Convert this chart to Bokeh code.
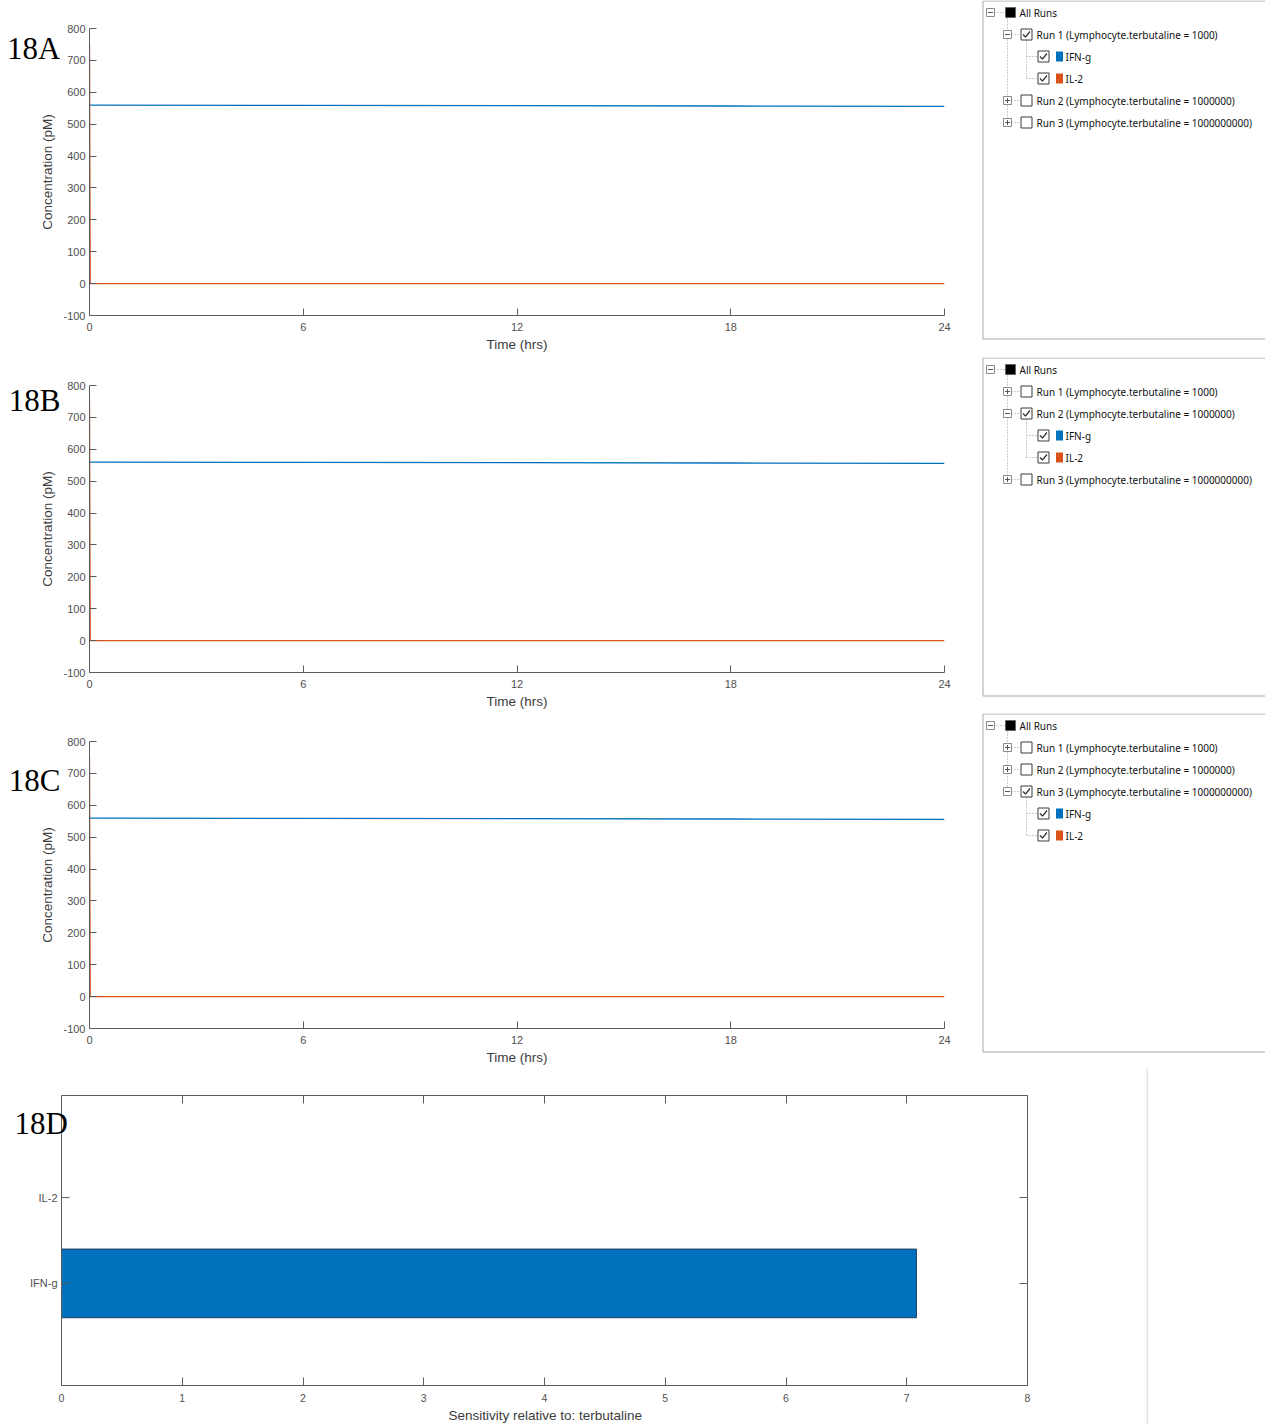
import math
from bokeh.plotting import figure
from bokeh.models import Range1d, FixedTicker, LinearAxis, Title
from bokeh.layouts import column, row
from bokeh.embed import file_html
from bokeh.resources import INLINE
from bokeh.core.properties import value

# ---- simulated time courses (same for every run) ----
time_hrs = [0, 0.02, 6, 12, 18, 24]
ifng_pm = [560, 560, 559, 558, 557, 556]
il2_pm = [750, 0, 0, 0, 0, 0]

species = ["IFN-g", "IL-2"]
species_colors = ["#0072BD", "#D95319"]

run_labels = [
    "Run 1 (Lymphocyte.terbutaline = 1000)",
    "Run 2 (Lymphocyte.terbutaline = 1000000)",
    "Run 3 (Lymphocyte.terbutaline = 1000000000)",
]
panel_tags = ["18A", "18B", "18C"]
conc_ticks = [-100, 0, 100, 200, 300, 400, 500, 600, 700, 800]
time_ticks = [0, 6, 12, 18, 24]

# ---- sensitivity bar chart ----
sens_species = ["IFN-g", "IL-2"]
sens_values = [7.08, 0.0]
sens_ticks = [0, 1, 2, 3, 4, 5, 6, 7, 8]

AX = "#5c5c5c"
TICK_TXT = "#505050"
LBL_TXT = "#3c3c3c"
SANS = "Liberation Sans"
SERIF = "Liberation Serif"
STRIP_W = 60


def no_align(p):
    if "frame_align" in p.properties():
        p.frame_align = False


def bare(p):
    p.grid.visible = False
    p.outline_line_color = None
    p.border_fill_color = "white"
    p.background_fill_color = "white"


def style_axis(ax, tick_len=7):
    ax.axis_line_color = AX
    ax.axis_line_width = 1
    ax.major_tick_line_color = AX
    ax.major_tick_in = tick_len
    ax.major_tick_out = 0
    ax.minor_tick_line_color = None
    ax.major_label_text_font = SANS
    ax.major_label_text_font_size = "11px"
    ax.major_label_text_color = TICK_TXT
    ax.axis_label_text_font = SANS
    ax.axis_label_text_font_size = "13.5px"
    ax.axis_label_text_font_style = "normal"
    ax.axis_label_text_color = LBL_TXT


def left_strip(h, tag, tag_base, frame_top, frame_h):
    """Panel tag and y-axis title, drawn to the left of a time-course plot."""
    p = figure(width=STRIP_W, height=h, x_range=Range1d(0, STRIP_W), y_range=Range1d(h, 0),
               x_axis_type=None, y_axis_type=None, output_backend="svg",
               toolbar_location=None, min_border=0)
    no_align(p)
    bare(p)
    p.text([STRIP_W], [tag_base], text=[tag], text_font=value(SERIF),
           text_font_size=value("31px"), text_align="right",
           text_baseline="alphabetic", text_color="black")
    p.text([47], [frame_top + frame_h / 2], text=["Concentration (pM)"],
           text_font=value(SANS), text_font_size=value("13.5px"), angle=math.pi / 2,
           text_align="center", text_baseline="middle", text_color=LBL_TXT)
    return p


def time_course(h, top, fh):
    p = figure(width=981 - STRIP_W, height=h, x_range=Range1d(0, 24), y_range=Range1d(-100, 800),
               output_backend="svg", toolbar_location=None,
               min_border_left=89 - STRIP_W, min_border_right=37, min_border_top=top,
               min_border_bottom=h - top - fh)
    bare(p)
    p.line(time_hrs, ifng_pm, line_color=species_colors[0], line_width=1.3)
    p.line(time_hrs, il2_pm, line_color=species_colors[1], line_width=1.3)
    p.xaxis.ticker = FixedTicker(ticks=time_ticks)
    p.yaxis.ticker = FixedTicker(ticks=conc_ticks)
    p.yaxis.major_label_overrides = {-100: "-100"}
    p.xaxis.axis_label = "Time (hrs)"
    style_axis(p.xaxis[0])
    style_axis(p.yaxis[0])
    p.xaxis.major_label_standoff = 7
    p.xaxis.axis_label_standoff = 3
    p.yaxis.major_label_standoff = 4
    return p


def tree_panel(h, open_run):
    p = figure(width=284, height=h, x_range=Range1d(0, 284), y_range=Range1d(h, 0),
               x_axis_type=None, y_axis_type=None, output_backend="svg",
               toolbar_location=None, min_border=0)
    no_align(p)
    bare(p)
    # panel frame
    p.line([284, 1.5, 1.5, 284], [0.5, 0.5, 338.5, 338.5], line_color="#a8a8a8", line_width=1)

    font = value("Noto Sans")
    fs = value("10px")
    rows = [("all", "All Runs", None)]
    for i, lab in enumerate(run_labels):
        rows.append(("run", lab, i))
        if i == open_run:
            for k, sp in enumerate(species):
                rows.append(("sp", sp, k))
    ys = [12 + 22 * k for k in range(len(rows))]

    run_ys = [y for (kind, _, _), y in zip(rows, ys) if kind == "run"]
    sp_ys = [y for (kind, _, _), y in zip(rows, ys) if kind == "sp"]
    dot = dict(line_color="#9a9a9a", line_width=1, line_dash="1 2")
    # tree connectors
    p.line([26, 26], [18, run_ys[-1]], **dot)
    p.line([13, 24], [12, 12], **dot)
    for y in run_ys:
        p.line([30, 39], [y, y], **dot)
    if sp_ys:
        p.line([45, 45], [40 + 22 * open_run, sp_ys[-1]], **dot)
        for y in sp_ys:
            p.line([45, 56], [y, y], **dot)

    def expander(x, y, plus):
        p.rect(x, y, 8, 8, fill_color="white", line_color="#8a8a8a", line_width=1)
        p.line([x - 2.5, x + 2.5], [y, y], line_color="#555", line_width=1)
        if plus:
            p.line([x, x], [y - 2.5, y + 2.5], line_color="#555", line_width=1)

    def checkbox(x, y, checked):
        p.rect(x, y, 11, 11, fill_color="white", line_color="#3a3a3a", line_width=1)
        if checked:
            p.line([x - 3.5, x - 1, x + 3.5], [y, y + 2.5, y - 3], line_color="#333", line_width=1.2)

    for (kind, lab, idx), y in zip(rows, ys):
        if kind == "all":
            expander(9, y, False)
            p.rect(29, y, 10, 10, fill_color="black", line_color="#666")
            p.text([38], [y], text=[lab], text_font=font, text_font_size=fs,
                   text_baseline="middle", text_color="#111")
        elif kind == "run":
            opened = idx == open_run
            expander(26, y, not opened)
            checkbox(45, y, opened)
            p.text([55], [y], text=[lab], text_font=font, text_font_size=fs,
                   text_baseline="middle", text_color="#111")
        else:
            checkbox(62, y, True)
            p.rect(78, y, 7, 10, fill_color=species_colors[idx], line_color=None)
            p.text([84], [y], text=[lab], text_font=font, text_font_size=fs,
                   text_baseline="middle", text_color="#111")
    return p


heights = [357, 356, 355]
tag_base = [48, 43, 67]
FRAME_TOP, FRAME_H = 28, 287
rows_out = []
for i in range(3):
    h = heights[i]
    rows_out.append(row(left_strip(h, panel_tags[i], tag_base[i], FRAME_TOP, FRAME_H),
                        time_course(h, FRAME_TOP, FRAME_H),
                        tree_panel(h, i)))

# ---- sensitivity panel ----
# The frame reaches the left edge of the canvas so the panel tag can sit left of
# the value axis; axes are bounded to the 0..8 sensitivity span.
hd, d_w = 356, 1146
d_top, d_fh, d_left, d_right = 27, 290, 61, 119
x_lo, x_hi = 0, 8
ppu_x = (d_w - d_right - d_left) / (x_hi - x_lo)
y_sens = Range1d(-0.19, 3.19)
ppu_y = d_fh / (y_sens.end - y_sens.start)
pd_ = figure(width=d_w, height=hd, x_range=Range1d(x_lo - d_left / ppu_x, x_hi), y_range=y_sens,
             y_axis_location="right", output_backend="svg", toolbar_location=None,
             min_border_left=0, min_border_right=d_right, min_border_top=d_top,
             min_border_bottom=hd - d_top - d_fh)
no_align(pd_)
bare(pd_)
sens_pos = [i + 1 for i in range(len(sens_species))]
pd_.hbar(y=sens_pos, left=0, right=sens_values, height=0.8,
         fill_color="#0072BD", line_color="#1d3b5a", line_width=1)

pd_.xaxis.ticker = FixedTicker(ticks=sens_ticks)
pd_.xaxis.bounds = (x_lo, x_hi)
style_axis(pd_.xaxis[0], 8)
pd_.xaxis.major_label_text_font_size = "10.5px"
pd_.xaxis.major_label_standoff = 8
# axis title under the bounded 0..8 axis (offset from the frame's left edge)
x_title = "Sensitivity relative to: terbutaline"
pd_.add_layout(Title(text=x_title, align="left", offset=448, standoff=3,
                     text_font=SANS, text_font_size="13.5px",
                     text_font_style="normal", text_color=LBL_TXT), "below")

pd_.yaxis.ticker = FixedTicker(ticks=sens_pos)
style_axis(pd_.yaxis[0], 8)
pd_.yaxis.major_label_text_font_size = "0px"
pd_.yaxis.major_label_standoff = 0

top_ax = LinearAxis(ticker=FixedTicker(ticks=sens_ticks), bounds=(x_lo, x_hi))
style_axis(top_ax, 8)
top_ax.major_label_text_font_size = "0px"
top_ax.major_label_standoff = 0
pd_.add_layout(top_ax, "above")

# left spine with inward ticks and category names at x = 0
pd_.segment(x0=[0], y0=[y_sens.start], x1=[0], y1=[y_sens.end], line_color=AX, line_width=1)
pd_.segment(x0=[0] * len(sens_pos), y0=sens_pos, x1=[8 / ppu_x] * len(sens_pos), y1=sens_pos,
            line_color=AX, line_width=1)
pd_.text([-4 / ppu_x] * len(sens_pos), sens_pos, text=sens_species,
         text_font=value(SANS), text_font_size=value("11px"), text_align="right",
         text_baseline="middle", text_color=TICK_TXT)
tag_y = y_sens.end - (55 - d_top) / ppu_y
pd_.text([(14 - d_left) / ppu_x], [tag_y], text=["18D"], text_font=value(SERIF),
         text_font_size=value("31px"), text_align="left",
         text_baseline="alphabetic", text_color="black")

sep = figure(width=1265 - d_w, height=hd, x_range=Range1d(0, 1265 - d_w), y_range=Range1d(0, hd),
             x_axis_type=None, y_axis_type=None, output_backend="svg",
             toolbar_location=None, min_border=0)
no_align(sep)
bare(sep)
sep.line([0.5, 0.5], [0, hd], line_color="#c8c8c8", line_width=1)

layout = column(*rows_out, row(pd_, sep))
open("out.html", "w").write(file_html(layout, INLINE))
